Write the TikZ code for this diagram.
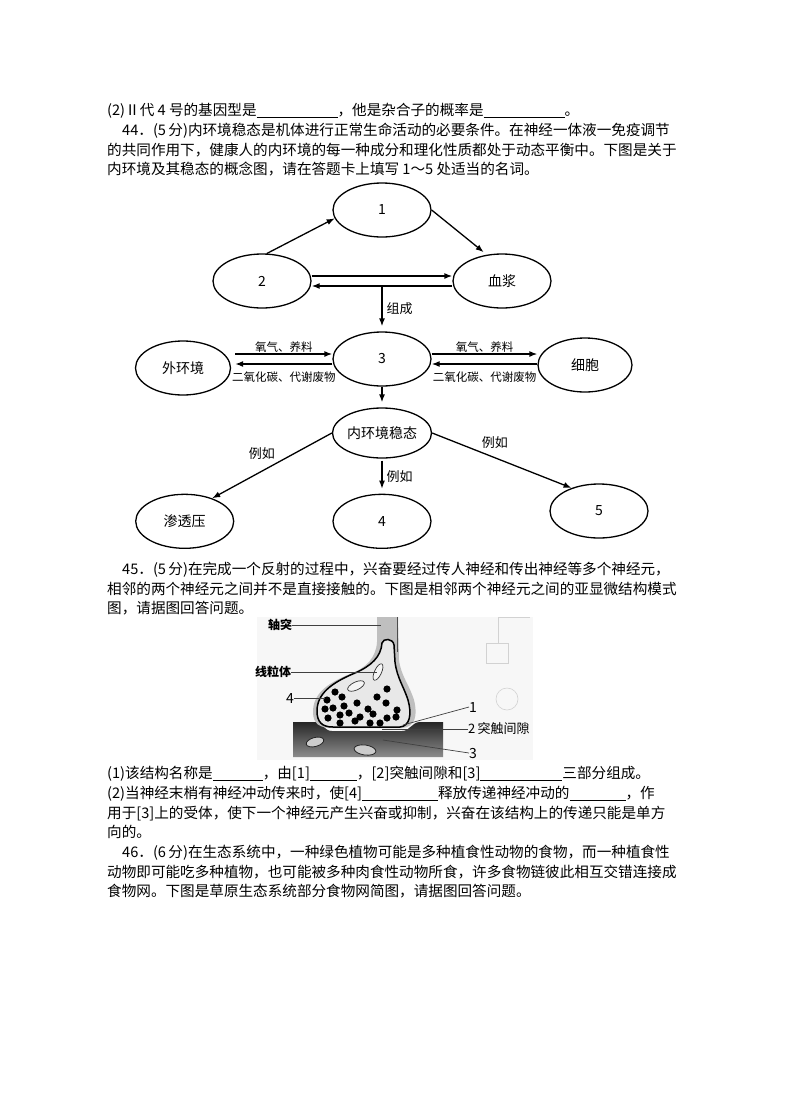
\documentclass[tikz,border=0pt]{standalone}
\usepackage{fontspec}
\setmainfont{Noto Sans CJK SC}
\usetikzlibrary{positioning,shapes.geometric,arrows.meta}
\newcommand{\fillin}[1]{\rule[-2.5bp]{#1}{0.7bp}}

\begin{document}
\begin{tikzpicture}[x=1bp,y=-1bp,>={Latex[length=8bp,width=6bp]},
  para/.style={anchor=base west, inner sep=0pt, font=\fontsize{14.6bp}{17bp}\selectfont},
  bubble/.style={ellipse, draw, line width=1.3bp, minimum width=98bp, minimum height=54bp, inner sep=0pt, font=\fontsize{14bp}{14bp}\selectfont},
  tag/.style={inner sep=1bp, font=\fontsize{13bp}{13bp}\selectfont},
  mini/.style={inner sep=1bp, font=\fontsize{11.5bp}{12bp}\selectfont},
  link/.style={->, line width=1.3bp},
  leader/.style={draw=black!75, line width=0.7bp},
  syn/.style={inner sep=0pt, anchor=west, font=\fontsize{12bp}{12bp}\selectfont\bfseries},
  synnum/.style={inner sep=0pt, anchor=west, font=\fontsize{14bp}{14bp}\selectfont},]
\useasboundingbox (0,0) rectangle (790,1119);

%Text
\node[para] (l1) at (107,115.5) {(2)Ⅱ代 4 号的基因型是\fillin{81bp}，他是杂合子的概率是\fillin{81bp}。};
\node[para] (l2) at (122,135.5) {44．(5\,分)内环境稳态是机体进行正常生命活动的必要条件。在神经一体液一免疫调节};
\node[para] (l3) at (107,155.5) {的共同作用下，健康人的内环境的每一种成分和理化性质都处于动态平衡中。下图是关于};
\node[para] (l4) at (107,174.5) {内环境及其稳态的概念图，请在答题卡上填写 1～5 处适当的名词。};

%Nodes
\node[bubble] (n1) at (382,210) {1};
\node[bubble] (n2) at (262,281) {2};
\node[bubble] (xj) at (502,281) {血浆};
\node[bubble] (p3) at (382,359) {3};
\node[bubble, minimum width=95bp] (wh) at (183,368) {外环境};
\node[bubble, minimum width=94bp] (xb) at (585,365) {细胞};
\node[bubble, minimum height=50bp] (wt) at (382,433) {内环境稳态};
\node[bubble] (n4) [below=35bp of wt] {4};
\node[bubble] (st) [left=98bp of n4] {渗透压};
\node[bubble] (n5) at (599,511) {5};

%Lines
\draw[link] (n2.80) -- (n1.190);
\draw[link, shorten >=4bp] (n1.east) -- (xj.120);
\draw[link] ([yshift=5bp]n2.east) -- ([yshift=5bp]xj.west);
\draw[link] ([yshift=-5bp]xj.west) -- ([yshift=-5bp]n2.east);
\draw[link, shorten >=5bp] ([yshift=-5bp]n2.east -| p3.north) -- node[tag, right=3bp] (zc) {组成} (p3.north);
\draw[link] ([xshift=4bp,yshift=5bp]wh.east |- p3.west) -- node[mini, above] (o1) {氧气、养料} ([yshift=5bp]p3.west);
\draw[link] ([yshift=-5bp]p3.west) -- node[mini, below=6bp] (c1) {二氧化碳、代谢废物} ([xshift=4bp,yshift=-5bp]wh.east |- p3.west);
\draw[link] ([yshift=5bp]p3.east) -- node[mini, above] (o2) {氧气、养料} ([yshift=5bp]xb.west |- p3.east);
\draw[link] ([yshift=-5bp]xb.west |- p3.east) -- node[mini, below=6bp] (c2) {二氧化碳、代谢废物} ([yshift=-5bp]p3.east);
\draw[link, shorten >=5bp] (p3.south) -- (wt.north);
\draw[link] (wt.west) -- node[tag, pos=0.45, above left=2bp] (e1) {例如} (st.40);
\draw[link, shorten <=2bp, shorten >=5bp] (wt.south) -- node[tag, right=3bp] (e2) {例如} (n4.north);
\draw[link] (wt.east) -- node[tag, pos=0.45, above=8bp] (e3) {例如} (n5.140);

%Text
\node[para] (l5) at (122,574.5) {45．(5\,分)在完成一个反射的过程中，兴奋要经过传人神经和传出神经等多个神经元，};
\node[para] (l6) at (107,594.5) {相邻的两个神经元之间并不是直接接触的。下图是相邻两个神经元之间的亚显微结构模式};
\node[para] (l7) at (107,613.5) {图，请据图回答问题。};

%Synapse
\fill[gray!6] (257,617) rectangle (533,760);
\draw[gray!35, line width=0.6bp] (530,617) -- (498,617) -- (498,643);
\draw[gray!35, line width=0.6bp] (486,643) rectangle (508,663);
\draw[gray!35, line width=0.6bp] (507,699) circle (11bp);
\shade[top color=black!85, bottom color=black!45] (293,722) -- (316,722) .. controls (322,722) and (324,731) .. (332,731) -- (402,731) .. controls (410,731) and (412,722) .. (420,722) -- (443,722) -- (443,757) -- (293,757) -- cycle;
\filldraw[fill=gray!40, draw=black!85, line width=0.8bp, rotate around={15:(315,742)}] (315,742) ellipse (9bp and 4.5bp);
\filldraw[fill=gray!40, draw=black!85, line width=0.8bp, rotate around={-8:(365,750)}] (365,750) ellipse (11bp and 5bp);
\fill[gray!50] (377,617) -- (377,642) .. controls (376,658) and (366,668) .. (350,674) .. controls (325,684) and (313,695) .. (313,712) .. controls (313,724) and (320,728) .. (332,728) -- (402,728) .. controls (415,727) and (418,716) .. (414,700) .. controls (409,684) and (401,676) .. (399,660) -- (398,617) -- cycle;
\filldraw[fill=gray!18, draw=black, line width=1.5bp] (382,643) .. controls (381,657) and (371,666) .. (355,673) .. controls (331,683) and (317,694) .. (317,711) .. controls (317,722) and (322,727) .. (333,727) -- (400,727) .. controls (410,726) and (412,714) .. (408,700) .. controls (404,687) and (397,678) .. (395,662) -- (394,645) .. controls (393,638) and (383,638) .. cycle;
\draw[black!70, line width=1bp] (397,617) -- (397,652);
\filldraw[fill=gray!8, draw=black!80, line width=0.7bp, rotate around={65:(378,672)}] (378,672) ellipse (9bp and 3.5bp);
\filldraw[fill=gray!8, draw=black!80, line width=0.7bp, rotate around={25:(356,686)}] (356,686) ellipse (9bp and 4bp);
\fill[black] (335,692) circle (3.6bp) (387,689) circle (3.6bp) (327,700) circle (3.6bp) (342,697) circle (3.6bp)
  (377,697) circle (3.6bp) (386,703) circle (3.6bp) (325,709) circle (3.6bp) (333,708) circle (3.6bp)
  (344,706) circle (3.6bp) (357,703) circle (3.6bp) (368,709) circle (3.6bp) (397,710) circle (3.6bp)
  (328,718) circle (3.6bp) (340,715) circle (3.6bp) (349,713) circle (3.6bp) (360,717) circle (3.6bp)
  (373,714) circle (3.6bp) (387,718) circle (3.6bp) (396,717) circle (3.6bp) (355,721) circle (3.6bp)
  (340,723) circle (3.6bp) (370,723) circle (3.6bp) (380,723) circle (3.6bp);

%Labels
\node[syn] (zt) at (268,625) {轴突};
\node[syn] (xlt) at (255,672) {线粒体};
\node[synnum] (v4) at (286,698) {4};
\node[synnum] (m1) at (469,707) {1};
\node[synnum, font=\fontsize{13bp}{13bp}\selectfont] (m2) at (468,729) {2\,突触间隙};
\node[synnum] (m3) at (469,753) {3};
\coordinate (pz) at (381,625);
\coordinate (pm) at (377,672);
\coordinate (pv) at (325,698);
\coordinate (pq) at (403,725);
\coordinate (pg) at (382,729);
\coordinate (pp) at (383,740);
\draw[leader] (zt.east) -- (pz);
\draw[leader] (xlt.east) -- (pm);
\draw[leader] (v4.east) -- (pv);
\draw[leader] (m1.west) -- (pq);
\draw[leader] (m2.west) -- (pg);
\draw[leader] (m3.west) -- (pp);

%Text
\node[para] (l8) at (107,778.5) {(1)该结构名称是\fillin{50bp}，由[1]\fillin{47bp}，[2]突触间隙和[3]\fillin{82bp}三部分组成。};
\node[para] (l9) at (107,798.5) {(2)当神经末梢有神经冲动传来时，使[4]\fillin{76bp}释放传递神经冲动的\fillin{56bp}，作};
\node[para] (l10) at (107,818) {用于[3]上的受体，使下一个神经元产生兴奋或抑制，兴奋在该结构上的传递只能是单方};
\node[para] (l11) at (107,837.5) {向的。};
\node[para] (l12) at (122,857.5) {46．(6\,分)在生态系统中，一种绿色植物可能是多种植食性动物的食物，而一种植食性};
\node[para] (l13) at (107,877) {动物即可能吃多种植物，也可能被多种肉食性动物所食，许多食物链彼此相互交错连接成};
\node[para] (l14) at (107,896.5) {食物网。下图是草原生态系统部分食物网简图，请据图回答问题。};

\end{tikzpicture}
\end{document}
